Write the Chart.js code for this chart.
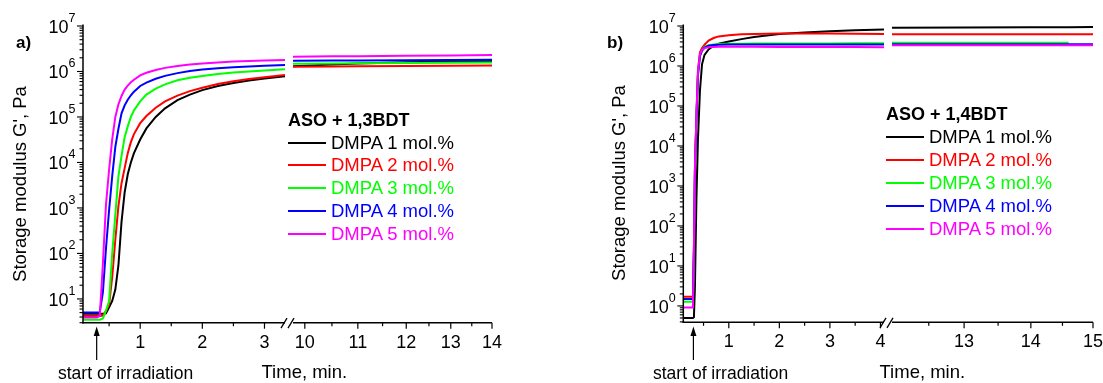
<!DOCTYPE html>
<html>
<head>
<meta charset="utf-8">
<script src="https://cdn.jsdelivr.net/npm/chart.js@4/dist/chart.umd.min.js"></script>
<style>
  html, body { margin: 0; padding: 0; background: #fff; }
  #fig { position: relative; width: 1103px; height: 383px; overflow: hidden;
         font-family: "Liberation Sans", Arial, sans-serif; color: #000; }
  #fig canvas { position: absolute; left: 0; top: 0; }
  .t { position: absolute; white-space: nowrap; line-height: 1; }
  .sw { position: absolute; height: 2px; }
</style>
</head>
<body>
<div id="fig"></div>
<script>
// ---- series ----
const seriesNames  = ['DMPA 1 mol.%', 'DMPA 2 mol.%', 'DMPA 3 mol.%', 'DMPA 4 mol.%', 'DMPA 5 mol.%'];
const seriesColors = ['#000000', '#ff0000', '#00ff00', '#0000ff', '#ff00ff'];

// ---- panel a: ASO + 1,3BDT ----
const aTitle = 'ASO + 1,3BDT';
const aTimeLeft = [0.08, 0.3, 0.35, 0.4, 0.45, 0.5, 0.55, 0.6, 0.65, 0.7, 0.75, 0.8, 0.85, 0.9, 1.0, 1.1, 1.25, 1.4, 1.6, 1.8, 2.0, 2.25, 2.5, 2.75, 3.0, 3.33];
const aLeft1 = [4.7, 4.7, 4.7, 4.7, 4.8, 6.5, 9, 16, 55, 500, 2200, 5500, 1.0e4, 1.6e4, 3.2e4, 5.6e4, 1.0e5, 1.55e5, 2.35e5, 3.1e5, 3.9e5, 4.8e5, 5.6e5, 6.3e5, 7.0e5, 7.9e5];
const aLeft2 = [4.2, 4.2, 4.2, 4.3, 5.5, 7.5, 30, 200, 1100, 3500, 7500, 1.6e4, 2.8e4, 4.2e4, 7.3e4, 1.05e5, 1.6e5, 2.2e5, 2.95e5, 3.7e5, 4.4e5, 5.3e5, 6.1e5, 6.8e5, 7.5e5, 8.4e5];
const aLeft3 = [3.5, 3.5, 3.5, 3.7, 5.5, 9, 100, 700, 5000, 1.4e4, 3.6e4, 6.2e4, 1.0e5, 1.4e5, 2.2e5, 3.1e5, 4.2e5, 5.2e5, 6.4e5, 7.3e5, 8.0e5, 8.8e5, 9.5e5, 1.0e6, 1.05e6, 1.12e6];
const aLeft4 = [5.0, 5.0, 5.1, 14, 130, 900, 5000, 2.2e4, 5.5e4, 1.2e5, 1.8e5, 2.4e5, 3.0e5, 3.6e5, 4.8e5, 5.7e5, 6.9e5, 8.0e5, 9.2e5, 1.02e6, 1.1e6, 1.18e6, 1.24e6, 1.29e6, 1.34e6, 1.39e6];
const aLeft5 = [3.9, 3.9, 4.2, 60, 1200, 7000, 3.2e4, 1.0e5, 1.9e5, 2.9e5, 4.0e5, 4.9e5, 5.8e5, 6.6e5, 8.2e5, 9.4e5, 1.08e6, 1.2e6, 1.32e6, 1.42e6, 1.5e6, 1.58e6, 1.65e6, 1.7e6, 1.74e6, 1.79e6];
const aTimeRight = [9.79, 10.5, 11, 12, 13, 14];
const aRight1 = [1.3e6, 1.42e6, 1.5e6, 1.6e6, 1.66e6, 1.7e6];
const aRight2 = [1.27e6, 1.29e6, 1.3e6, 1.32e6, 1.34e6, 1.36e6];
const aRight3 = [1.48e6, 1.5e6, 1.51e6, 1.53e6, 1.55e6, 1.57e6];
const aRight4 = [1.72e6, 1.74e6, 1.75e6, 1.77e6, 1.79e6, 1.8e6];
const aRight5 = [2.12e6, 2.15e6, 2.17e6, 2.21e6, 2.26e6, 2.3e6];
const aTicksLeft  = [1, 2, 3];
const aMinorLeft  = [0.5, 1.5, 2.5];
const aTicksRight = [10, 11, 12, 13, 14];
const aMinorRight = [10.5, 11.5, 12.5, 13.5];
const aDecades = [1, 2, 3, 4, 5, 6, 7];

// ---- panel b: ASO + 1,4BDT ----
const bTitle = 'ASO + 1,4BDT';
const bTimeLeft = [0.1, 0.29, 0.31, 0.33, 0.36, 0.39, 0.43, 0.47, 0.52, 0.6, 0.7, 0.8, 1.0, 1.25, 1.5, 2.0, 2.5, 3.0, 3.5, 4.07];
const bLeft1 = [0.5, 0.5, 0.52, 3, 500, 1.5e4, 2.5e5, 1.1e6, 1.9e6, 2.6e6, 3.2e6, 3.6e6, 4.1e6, 4.7e6, 5.3e6, 6.3e6, 6.9e6, 7.4e6, 7.8e6, 8.2e6];
const bLeft2 = [1.7, 1.7, 25, 2500, 6e4, 8e5, 2.2e6, 2.8e6, 3.4e6, 4.3e6, 5.0e6, 5.5e6, 5.9e6, 6.2e6, 6.35e6, 6.5e6, 6.5e6, 6.45e6, 6.4e6, 6.35e6];
const bLeft3 = [1.28, 1.28, 25, 2500, 5e4, 6e5, 1.8e6, 2.5e6, 3.0e6, 3.3e6, 3.45e6, 3.55e6, 3.6e6, 3.62e6, 3.64e6, 3.65e6, 3.66e6, 3.67e6, 3.68e6, 3.7e6];
const bLeft4 = [1.5, 1.5, 25, 2500, 5e4, 6e5, 1.8e6, 2.4e6, 2.9e6, 3.2e6, 3.35e6, 3.4e6, 3.45e6, 3.45e6, 3.45e6, 3.45e6, 3.45e6, 3.45e6, 3.45e6, 3.45e6];
const bLeft5 = [0.92, 0.92, 30, 3000, 6e4, 7e5, 2.0e6, 2.5e6, 2.8e6, 2.95e6, 3.0e6, 3.02e6, 3.02e6, 3.02e6, 3.02e6, 3.0e6, 3.0e6, 2.98e6, 2.97e6, 2.96e6];
const bTimeRight = [12.0, 13, 14, 14.6, 15];
const bRight1 = [9.1e6, 9.2e6, 9.3e6, 9.35e6, 9.4e6];
const bRight2 = [6.2e6, 6.2e6, 6.2e6, 6.2e6, 6.2e6];
const bRight3 = [3.8e6, 3.8e6, 3.8e6, 3.8e6, null];
const bRight4 = [3.5e6, 3.5e6, 3.5e6, 3.5e6, 3.5e6];
const bRight5 = [3.28e6, 3.28e6, 3.28e6, 3.28e6, 3.28e6];
const bTicksLeft  = [1, 2, 3, 4];
const bMinorLeft  = [0.5, 1.5, 2.5, 3.5];
const bTicksRight = [13, 14, 15];
const bMinorRight = [12.5, 13.5, 14.5];
const bDecades = [0, 1, 2, 3, 4, 5, 6, 7];

const irradiationStart = 0.3;

// ---- drawing ----
const W = 1103, H = 383;
const FONT = '"Liberation Sans", Arial, sans-serif';
const fig = document.getElementById('fig');

function seg(ctx, x1, y1, x2, y2) {
  ctx.beginPath(); ctx.moveTo(x1, y1); ctx.lineTo(x2, y2); ctx.stroke();
}

// Axis lines, tick marks and tick labels, placed through the chart's own scales.
function axesPlugin(spec) {
  return {
    id: 'axesDraw',
    afterDatasetsDraw(chart) {
      const ctx = chart.ctx, a = chart.chartArea;
      const xs = chart.scales.x, ys = chart.scales.y;
      ctx.save();
      ctx.strokeStyle = '#000';
      ctx.fillStyle = '#000';
      ctx.lineCap = 'butt';

      // bottom axis
      ctx.lineWidth = 1.5;
      seg(ctx, a.left - (spec.yAxis ? 0.75 : 0), a.bottom, a.right, a.bottom);
      ctx.lineWidth = 1.2;
      spec.xMajor.forEach(v => { const p = xs.getPixelForValue(v); seg(ctx, p, a.bottom, p, a.bottom + 6); });
      spec.xMinor.forEach(v => { const p = xs.getPixelForValue(v); seg(ctx, p, a.bottom, p, a.bottom + 3.5); });
      ctx.font = '18px ' + FONT;
      ctx.textAlign = 'center';
      ctx.textBaseline = 'alphabetic';
      spec.xMajor.forEach(v => ctx.fillText(String(v), xs.getPixelForValue(v), a.bottom + 25));

      // left axis (log, with 2..9 minor ticks)
      if (spec.yAxis) {
        ctx.lineWidth = 1.5;
        seg(ctx, a.left, a.top - 1.5, a.left, a.bottom + 0.75);
        ctx.lineWidth = 1.1;
        const k0 = Math.floor(Math.log10(ys.min)), k1 = Math.ceil(Math.log10(ys.max));
        for (let k = k0; k <= k1; k++) {
          for (let m = 1; m <= 9; m++) {
            const v = m * Math.pow(10, k);
            if (v < ys.min * 0.999 || v > ys.max * 1.001) continue;
            const p = ys.getPixelForValue(v);
            seg(ctx, a.left, p, a.left - (m === 1 ? 6 : 3.5), p);
          }
        }
        ctx.textAlign = 'right';
        spec.decades.forEach(k => {
          const p = ys.getPixelForValue(Math.pow(10, k));
          const supRight = a.left - 7.5;
          ctx.font = '12.5px ' + FONT;
          const sw = ctx.measureText(String(k)).width;
          ctx.fillText(String(k), supRight, p - 4);
          ctx.font = '18px ' + FONT;
          ctx.fillText('10', supRight - sw, p + 7);
        });
      }

      // axis break "//"
      if (spec.breakMark) {
        ctx.lineWidth = 1.3;
        const r = a.right, b = a.bottom;
        seg(ctx, r - 4, b + 5.5, r + 2, b - 4.5);
        seg(ctx, r + 3, b + 5.5, r + 9, b - 4.5);
      }

      // irradiation arrow
      if (spec.arrowAt != null) {
        const x = xs.getPixelForValue(spec.arrowAt);
        ctx.lineWidth = 1.2;
        seg(ctx, x, 360, x, 334);
        ctx.beginPath();
        ctx.moveTo(x, 326.5); ctx.lineTo(x - 3, 336); ctx.lineTo(x + 3, 336); ctx.closePath();
        ctx.fill();
      }
      ctx.restore();
    }
  };
}

function makeChart(spec) {
  const cv = document.createElement('canvas');
  cv.width = W; cv.height = H;
  cv.style.width = W + 'px'; cv.style.height = H + 'px';
  fig.appendChild(cv);
  const datasets = spec.series.map((vals, i) => ({
    label: seriesNames[i],
    data: spec.times.map((t, k) => ({ x: t, y: vals[k] })),
    borderColor: seriesColors[i],
    backgroundColor: seriesColors[i],
    borderWidth: 2,
    pointRadius: 0,
    tension: 0,
    fill: false,
    spanGaps: false,
    order: 4 - i
  }));
  return new Chart(cv, {
    type: 'line',
    data: { datasets },
    options: {
      responsive: false,
      animation: false,
      devicePixelRatio: 1,
      events: [],
      layout: { padding: { left: spec.area.left, right: W - spec.area.right, top: spec.area.top, bottom: H - spec.area.bottom } },
      plugins: { legend: { display: false }, tooltip: { enabled: false } },
      scales: {
        x: { type: spec.xType, min: spec.xMin, max: spec.xMax, display: false },
        y: { type: 'logarithmic', min: spec.yMin, max: spec.yMax, display: false }
      }
    },
    plugins: [axesPlugin(spec)]
  });
}

// panel a
makeChart({
  area: { left: 83, right: 285, top: 26, bottom: 322.7 },
  xType: 'linear', xMin: 0.08, xMax: 3.33, yMin: 3, yMax: 1e7,
  times: aTimeLeft, series: [aLeft1, aLeft2, aLeft3, aLeft4, aLeft5],
  xMajor: aTicksLeft, xMinor: aMinorLeft, yAxis: true, decades: aDecades,
  breakMark: true, arrowAt: irradiationStart
});
makeChart({
  area: { left: 293, right: 492, top: 26, bottom: 322.7 },
  xType: 'logarithmic', xMin: 9.79, xMax: 14, yMin: 3, yMax: 1e7,
  times: aTimeRight, series: [aRight1, aRight2, aRight3, aRight4, aRight5],
  xMajor: aTicksRight, xMinor: aMinorRight, yAxis: false
});

// panel b
makeChart({
  area: { left: 683.3, right: 884, top: 26, bottom: 322.3 },
  xType: 'linear', xMin: 0.1, xMax: 4.07, yMin: 0.39, yMax: 1e7,
  times: bTimeLeft, series: [bLeft1, bLeft2, bLeft3, bLeft4, bLeft5],
  xMajor: bTicksLeft, xMinor: bMinorLeft, yAxis: true, decades: bDecades,
  breakMark: true, arrowAt: irradiationStart
});
makeChart({
  area: { left: 892, right: 1093, top: 26, bottom: 322.3 },
  xType: 'logarithmic', xMin: 12.0, xMax: 15, yMin: 0.39, yMax: 1e7,
  times: bTimeRight, series: [bRight1, bRight2, bRight3, bRight4, bRight5],
  xMajor: bTicksRight, xMinor: bMinorRight, yAxis: false
});

// ---- text and legends ----
function addText(str, x, baseline, size, opts) {
  opts = opts || {};
  const d = document.createElement('div');
  d.className = 't';
  d.textContent = str;
  d.style.fontSize = size + 'px';
  d.style.left = x + 'px';
  d.style.top = (baseline - 0.8465 * size) + 'px';
  if (opts.bold) d.style.fontWeight = 'bold';
  if (opts.color) d.style.color = opts.color;
  fig.appendChild(d);
  return d;
}
function addVerticalTitle(str, cx, cy, size) {
  const d = document.createElement('div');
  d.className = 't';
  d.textContent = str;
  d.style.fontSize = size + 'px';
  d.style.left = cx + 'px';
  d.style.top = cy + 'px';
  d.style.transform = 'translate(-50%, -50%) rotate(-90deg)';
  fig.appendChild(d);
}
function addLegend(title, x, titleBaseline, firstRow, rowStep) {
  addText(title, x, titleBaseline, 18, { bold: true });
  seriesNames.forEach((name, i) => {
    const cy = firstRow + i * rowStep;
    const s = document.createElement('div');
    s.className = 'sw';
    s.style.left = x + 'px';
    s.style.width = '38px';
    s.style.top = (cy - 1) + 'px';
    s.style.background = seriesColors[i];
    fig.appendChild(s);
    addText(name, x + 43, cy + 6.6, 18.5, { color: seriesColors[i] });
  });
}

const yTitle = "Storage modulus G', Pa";
const xTitle = 'Time, min.';
const arrowLabel = 'start of irradiation';

addText('a)', 16, 48.5, 17, { bold: true });
addText('b)', 607, 48.5, 17, { bold: true });
addVerticalTitle(yTitle, 19.6, 184, 18.5);
addVerticalTitle(yTitle, 618.6, 182.5, 18.5);
addText(arrowLabel, 58, 379.5, 17.5);
addText(arrowLabel, 653, 379.5, 17.5);
addText(xTitle, 261.5, 379, 18.5);
addText(xTitle, 879.5, 379, 18.5);
addLegend(aTitle, 288, 126.7, 142.7, 22.75);
addLegend(bTitle, 886, 120.7, 137.3, 23);
</script>
</body>
</html>
